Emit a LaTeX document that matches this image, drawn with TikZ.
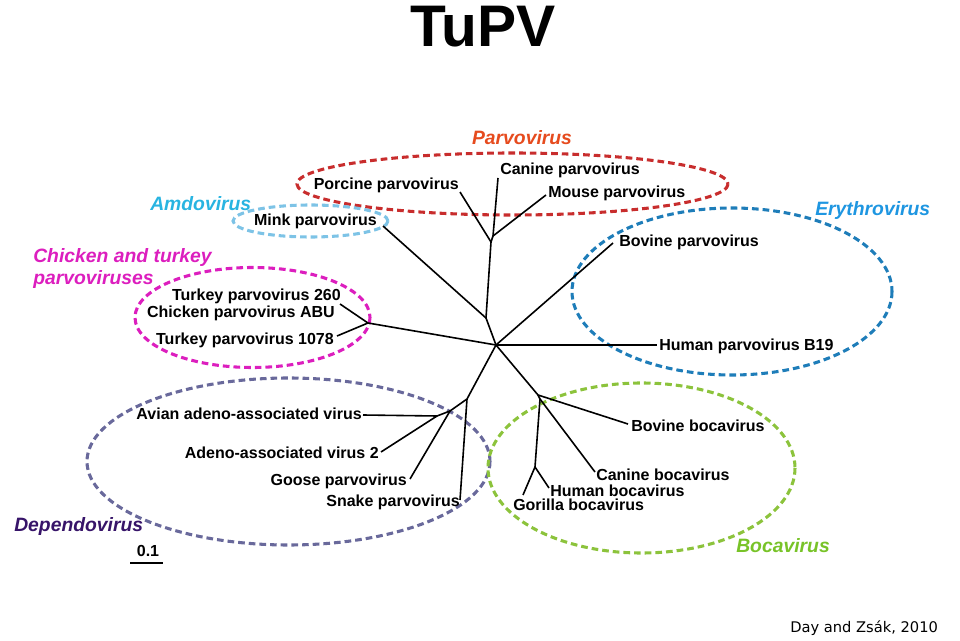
\documentclass[tikz,border=0pt]{standalone}
\usepackage{fontspec}
\setmainfont{Liberation Sans}
\newfontfamily\citefont{DejaVu Sans}
\usetikzlibrary{positioning}
\definecolor{parvored}{RGB}{200,45,45}
\definecolor{parvotxt}{RGB}{230,75,30}
\definecolor{amdoblue}{RGB}{125,195,230}
\definecolor{amdotxt}{RGB}{40,180,225}
\definecolor{chickmag}{RGB}{220,30,190}
\definecolor{erythblue}{RGB}{30,125,185}
\definecolor{erythtxt}{RGB}{30,150,225}
\definecolor{depgray}{RGB}{105,105,155}
\definecolor{deptxt}{RGB}{55,20,105}
\definecolor{bocagreen}{RGB}{140,195,60}
\definecolor{bocatxt}{RGB}{120,195,40}

\tikzset{
  leaf/.style={font=\bfseries\fontsize{12}{14}\selectfont, inner sep=0pt},
  genus/.style={font=\bfseries\itshape\fontsize{14.5}{16.5}\selectfont, inner sep=0pt},
  branch/.style={line width=1.2pt},
  ring/.style={line width=2.3pt, dash pattern=on 5pt off 3pt},
}

\begin{document}
\begin{tikzpicture}[x=0.75pt, y=-0.75pt]
\useasboundingbox (0,0) rectangle (960,641);

% title and source
\node[font=\bfseries\fontsize{44}{48}\selectfont, inner sep=0pt] (title) at (483,27) {TuPV};
\node[font=\citefont\fontsize{11}{13}\selectfont, inner sep=0pt, anchor=west] (source) at (790,628) {Day and Zsák, 2010};

% clade rings
\draw[ring, parvored] (512.5,184) ellipse [x radius=215.5, y radius=31];
\draw[ring, amdoblue] (310.5,221) ellipse [x radius=77.5, y radius=16];
\draw[ring, chickmag] (252.5,317.5) ellipse [x radius=117.5, y radius=50];
\draw[ring, erythblue] (732,291.5) ellipse [x radius=160, y radius=83.5];
\draw[ring, depgray] (288.5,461.5) ellipse [x radius=201.5, y radius=83.5];
\draw[ring, bocagreen] (641.5,468) ellipse [x radius=153.5, y radius=85];

% clade names
\node[genus, parvotxt] (parvovirus) at (522,138) {Parvovirus};
\node[genus, amdotxt, anchor=west] (amdovirus) at (150,204) {Amdovirus};
\node[genus, chickmag, anchor=west, align=left] (chicken) at (33,269) {Chicken and turkey\\parvoviruses};
\node[genus, erythtxt, anchor=west] (erythrovirus) at (815,211) {Erythrovirus};
\node[genus, deptxt, anchor=west] (dependovirus) at (14,527) {Dependovirus};
\node[genus, bocatxt, anchor=west] (bocavirus) at (736,546) {Bocavirus};

% inner nodes of the tree
\coordinate (root) at (496,345);
\coordinate (nPar) at (486,318);
\coordinate (nA) at (491,242);
\coordinate (nB) at (493,236);
\coordinate (nCT) at (368,323);
\coordinate (nD) at (467,399);
\coordinate (nE) at (450,411);
\coordinate (nF) at (437,416);
\coordinate (nG) at (538,395);
\coordinate (nH) at (540,399);
\coordinate (nI) at (535,467);

% tips
\coordinate (tPorcine) at (460,192);
\coordinate (tCanine) at (498,178);
\coordinate (tMouse) at (546,195);
\coordinate (tMink) at (383,226);
\coordinate (tTurkeyA) at (340,304);
\coordinate (tTurkeyB) at (337,336);
\coordinate (tBovine) at (613,243);
\coordinate (tHuman) at (657,345);
\coordinate (tAvian) at (363,415);
\coordinate (tAAV) at (381,452);
\coordinate (tGoose) at (410,479);
\coordinate (tSnake) at (460,500);
\coordinate (tBovBoca) at (628,424);
\coordinate (tCanBoca) at (595,472);
\coordinate (tHumBoca) at (549,488);
\coordinate (tGorBoca) at (523,495);

% leaf labels
\node[leaf, anchor=west] (canine) at (500,170) {Canine parvovirus};
\node[leaf, anchor=west] (mouse) at (548,193) {Mouse parvovirus};
\node[leaf, anchor=east] (porcine) at (459,185) {Porcine parvovirus};
\node[leaf, anchor=east] (mink) at (377,221) {Mink parvovirus};
\node[leaf, anchor=east] (turkey260) at (341,296) {Turkey parvovirus 260};
\node[leaf, anchor=east] (chickenabu) at (335,313) {Chicken parvovirus ABU};
\node[leaf, anchor=east] (turkey1078) at (334,340) {Turkey parvovirus 1078};
\node[leaf, anchor=west] (bovine) at (619,242) {Bovine parvovirus};
\node[leaf, anchor=west] (humanb19) at (659,346) {Human parvovirus B19};
\node[leaf, anchor=east] (avian) at (362,414) {Avian adeno-associated virus};
\node[leaf, anchor=east] (aav2) at (379,453) {Adeno-associated virus 2};
\node[leaf, anchor=east] (goose) at (407,481) {Goose parvovirus};
\node[leaf, anchor=east] (snake) at (460,502) {Snake parvovirus};
\node[leaf, anchor=west] (bovboca) at (631,426) {Bovine bocavirus};
\node[leaf, anchor=west] (canboca) at (596,475) {Canine bocavirus};
\node[leaf, anchor=west] (humboca) at (550,491) {Human bocavirus};
\node[leaf, anchor=west] (gorboca) at (513,505) {Gorilla bocavirus};

% branches
\draw[branch] (root) -- (nPar) -- (nA) -- (tPorcine);
\draw[branch] (nPar) -- (tMink);
\draw[branch] (nA) -- (nB) -- (tCanine);
\draw[branch] (nB) -- (tMouse);
\draw[branch] (root) -- (nCT) -- (tTurkeyA);
\draw[branch] (nCT) -- (tTurkeyB);
\draw[branch] (root) -- (tBovine);
\draw[branch] (root) -- (tHuman);
\draw[branch] (root) -- (nD) -- (nE) -- (nF) -- (tAvian);
\draw[branch] (nF) -- (tAAV);
\draw[branch] (nE) -- (tGoose);
\draw[branch] (nD) -- (tSnake);
\draw[branch] (root) -- (nG) -- (tBovBoca);
\draw[branch] (nG) -- (nH) -- (tCanBoca);
\draw[branch] (nH) -- (nI) -- (tHumBoca);
\draw[branch] (nI) -- (tGorBoca);

% scale bar
\node[leaf] (scale) at (148,551) {0.1};
\coordinate (sbL) at (130,563);
\coordinate (sbR) at (163,563);
\draw[branch] (sbL) -- (sbR);
\end{tikzpicture}
\end{document}
